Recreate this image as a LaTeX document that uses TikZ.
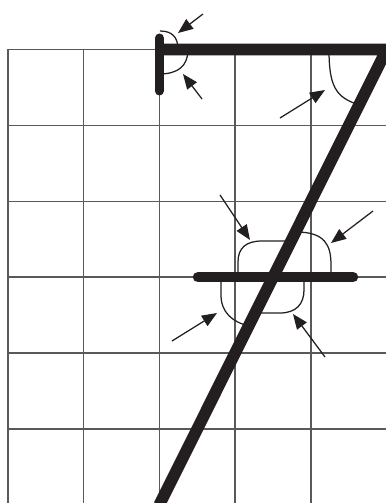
\documentclass[tikz,border=0pt]{standalone}
\usepackage{tikz}
\usetikzlibrary{arrows.meta}
\definecolor{Ink}{HTML}{231F20}
\definecolor{GridGray}{HTML}{58595B}

\begin{document}
\begin{tikzpicture}[x=0.2mm,y=-0.2mm,
  gridline/.style={draw=GridGray,line width=0.32mm},
  stroke/.style={draw=Ink,line width=2.35mm},
  anglearc/.style={draw=Ink,line width=0.25mm},
  pointer/.style={draw=Ink,line width=0.25mm,-{Triangle[length=3mm,width=2.4mm]}}]
\useasboundingbox (0,0) rectangle (386,503);
\clip (0,0) rectangle (386,503);
\fill[white] (0,0) rectangle (386,503);
% grid
\foreach \k in {0,...,5}
  \draw[gridline] ({7.7+75.8*\k},49.5) -- ({7.7+75.8*\k},510);
\foreach \k in {0,...,6}
  \draw[gridline] (7.7,{49.5+75.9*\k}) -- (400,{49.5+75.9*\k});
% angle arcs
\draw[anglearc] (160,31) .. controls (172,31) and (178,37) .. (178,49.5);
\draw[anglearc] (188,49.5) .. controls (188,66) and (178,74) .. (159.3,74);
\draw[anglearc] (329,49.5) .. controls (329,85) and (335,98) .. (360,105);
\draw[anglearc] (238,277) -- (238,262) .. controls (238,248) and (246,241) .. (262,241) -- (291,241);
\draw[anglearc] (296,232) .. controls (325,232) and (331,245) .. (331,265) -- (331,277);
\draw[anglearc] (221,277) -- (221,295) .. controls (221,312) and (232,322) .. (249,326);
\draw[anglearc] (255,313) -- (280,313) .. controls (296,313) and (304,304) .. (304,290) -- (304,277);
% strokes of the seven
\draw[stroke,line join=miter] (159.3,49.5) -- (386.7,49.5) -- (159.3,504.9);
\draw[stroke,line width=1.8mm,line cap=round] (159.3,38) -- (159.3,91);
\draw[stroke,line width=2.1mm,line cap=round] (198,277.2) -- (353,277.2);
% arrows
\coordinate (tlA) at (203,14);   \coordinate (tlAtip) at (178,33);
\coordinate (tlB) at (202,99);   \coordinate (tlBtip) at (183,74);
\coordinate (trA) at (280,118);  \coordinate (trAtip) at (325,90);
\coordinate (mUL) at (220,195);  \coordinate (mULtip) at (250,240);
\coordinate (mUR) at (373,211);  \coordinate (mURtip) at (331,243);
\coordinate (mLL) at (172,341);  \coordinate (mLLtip) at (217,313);
\coordinate (mLR) at (325,357);  \coordinate (mLRtip) at (293,314);
\draw[pointer] (tlA) -- (tlAtip);
\draw[pointer] (tlB) -- (tlBtip);
\draw[pointer] (trA) -- (trAtip);
\draw[pointer] (mUL) -- (mULtip);
\draw[pointer] (mUR) -- (mURtip);
\draw[pointer] (mLL) -- (mLLtip);
\draw[pointer] (mLR) -- (mLRtip);
\end{tikzpicture}
\end{document}
